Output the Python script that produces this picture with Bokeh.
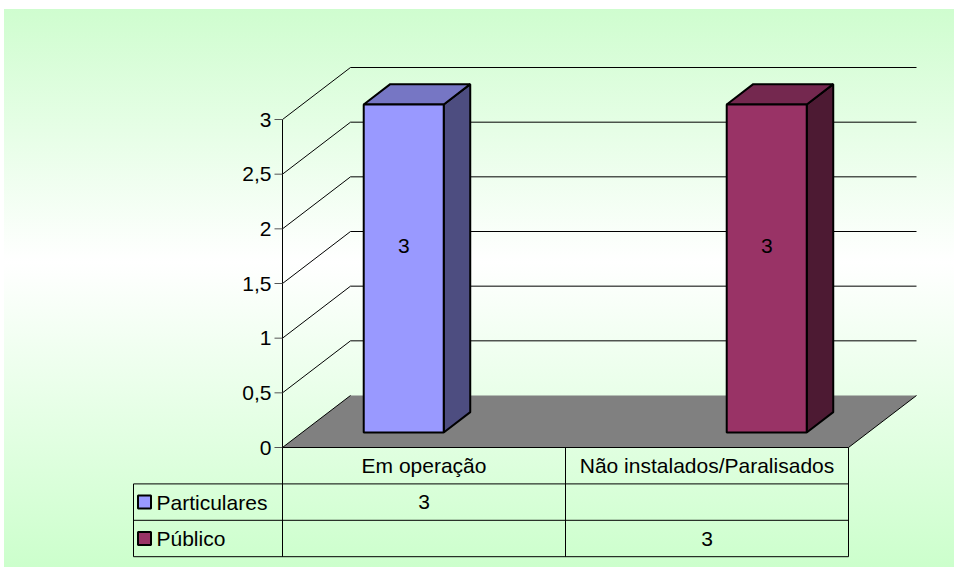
from bokeh.plotting import figure
from bokeh.models import Range1d, ColumnDataSource
from bokeh.core.properties import value
from bokeh.embed import file_html
from bokeh.resources import INLINE

# ---------------- data ----------------
categories = ["Em operação", "Não instalados/Paralisados"]
series_names = ["Particulares", "Público"]
particulares = [3, 0]
publico = [0, 3]
y_ticks = [0, 0.5, 1, 1.5, 2, 2.5, 3]
y_tick_labels = ["0", "0,5", "1", "1,5", "2", "2,5", "3"]

series_values = [particulares, publico]
front_colors = ["#9999ff", "#993366"]
top_colors = ["#7676c4", "#74284f"]
side_colors = ["#4d4d80", "#4d1a33"]

# ---------------- layout constants ----------------
W, H = 954, 567
AX_X, AX_Y = 282, 447          # pixel position of the value axis origin
CAT_PX, UNIT_PX = 283.0, 109.33  # px per category / px per value unit
DX, DY = 68 / CAT_PX, 52 / UNIT_PX  # 3-D depth offset in data units
F1, F2 = 0.29, 0.68            # bar front/back depth fractions
BAR_W = 80 / CAT_PX
ROW = 36.4 / UNIT_PX
LEG_X = (133 - AX_X) / CAT_PX
FONT = value("Liberation Sans")
FS = "21px"
n = len(categories)
ymax = max(y_ticks)

p = figure(width=W, height=H,
           x_range=Range1d(-AX_X / CAT_PX, (W - AX_X) / CAT_PX),
           y_range=Range1d(-(H - AX_Y) / UNIT_PX, AX_Y / UNIT_PX),
           output_backend="svg", toolbar_location=None, min_border=0,
           x_axis_location=None, y_axis_location=None)
p.grid.visible = False
p.outline_line_color = None
p.background_fill_color = None
p.border_fill_color = None
p.styles = {
    "background": "linear-gradient(to right, #ffffff 0px, #ffffff 4px, rgba(255,255,255,0) 4px), "
                  "linear-gradient(to bottom, #ffffff 0px, #ffffff 9px, #cffdcf 9px, #ffffff 262px, #ccffcc 567px)"
}

# ---------------- floor ----------------
p.patch([0, n, n + DX, DX], [0, 0, DY, DY], fill_color="#808080", line_color=None)

# ---------------- gridlines ----------------
back_levels = [t for t in y_ticks if t > 0]
p.segment(x0=[DX] * len(back_levels), y0=[t + DY for t in back_levels],
          x1=[n + DX] * len(back_levels), y1=[t + DY for t in back_levels],
          line_color="#000000", line_width=1)
p.segment(x0=[0] * len(y_ticks), y0=y_ticks,
          x1=[DX] * len(y_ticks), y1=[t + DY for t in y_ticks],
          line_color="#000000", line_width=1)
# floor right edge
p.segment(x0=[n], y0=[0], x1=[n + DX], y1=[DY], line_color="#000000", line_width=1)

# ---------------- 3-D bars ----------------
ns = len(series_names)
bdx, bdy = (F2 - F1) * DX, (F2 - F1) * DY
lab_x, lab_y, lab_t = [], [], []
for s, vals in enumerate(series_values):
    fr = dict(l=[], r=[], b=[], t=[])
    side_xs, side_ys, top_xs, top_ys = [], [], [], []
    for i, v in enumerate(vals):
        if not v:
            continue
        cx = i + 0.5 + F1 * DX
        left = cx + (s - ns / 2) * BAR_W
        right = left + BAR_W
        yb = F1 * DY
        yt = v + F1 * DY
        fr["l"].append(left); fr["r"].append(right); fr["b"].append(yb); fr["t"].append(yt)
        side_xs.append([right, right + bdx, right + bdx, right])
        side_ys.append([yb, yb + bdy, yt + bdy, yt])
        top_xs.append([left, right, right + bdx, left + bdx])
        top_ys.append([yt, yt, yt + bdy, yt + bdy])
        lab_x.append((left + right) / 2)
        lab_y.append(yb + v / 2)
        lab_t.append(str(v))
    p.patches(side_xs, side_ys, fill_color=side_colors[s], line_color="#000000", line_width=2)
    p.patches(top_xs, top_ys, fill_color=top_colors[s], line_color="#000000", line_width=2)
    p.quad(left=fr["l"], right=fr["r"], bottom=fr["b"], top=fr["t"],
           fill_color=front_colors[s], line_color="#000000", line_width=2)

p.text(x=lab_x, y=lab_y, text=lab_t, text_font=FONT, text_font_size=FS,
       text_align="center", text_baseline="middle", text_color="#000000", y_offset=-22)

# ---------------- value axis ----------------
p.segment(x0=[0], y0=[-3 * ROW], x1=[0], y1=[ymax], line_color="#000000", line_width=1)
p.segment(x0=[-8 / CAT_PX] * len(y_ticks), y0=y_ticks, x1=[0] * len(y_ticks), y1=y_ticks,
          line_color="#555555", line_width=1)
p.text(x=[0] * len(y_ticks), y=y_ticks, text=y_tick_labels, text_font=FONT, text_font_size=FS,
       text_align="right", text_baseline="middle", x_offset=-11, text_color="#000000")

# ---------------- data table ----------------
h_y = [0, -ROW, -2 * ROW, -3 * ROW]
h_x0 = [0, LEG_X, LEG_X, LEG_X]
p.segment(x0=h_x0, y0=h_y, x1=[n] * 4, y1=h_y, line_color="#000000", line_width=1)
v_x = [LEG_X] + list(range(1, n + 1))
v_y0 = [-ROW] + [0] * n
p.segment(x0=v_x, y0=v_y0, x1=v_x, y1=[-3 * ROW] * len(v_x), line_color="#000000", line_width=1)

p.text(x=[i + 0.5 for i in range(n)], y=[-ROW / 2] * n, text=categories,
       text_font=FONT, text_font_size=FS, text_align="center", text_baseline="middle")

cell_x, cell_y, cell_t = [], [], []
for s, vals in enumerate(series_values):
    for i, v in enumerate(vals):
        cell_x.append(i + 0.5)
        cell_y.append(-(s + 1.5) * ROW)
        cell_t.append(str(v) if v else "")
p.text(x=cell_x, y=cell_y, text=cell_t, text_font=FONT, text_font_size=FS,
       text_align="center", text_baseline="middle")

leg_y = [-(s + 1.5) * ROW for s in range(ns)]
p.scatter(x=[LEG_X + 11 / CAT_PX] * ns, y=leg_y, marker="square", size=13,
          fill_color=front_colors, line_color="#000000", line_width=2)
p.text(x=[LEG_X + 23 / CAT_PX] * ns, y=leg_y, text=series_names, text_font=FONT,
       text_font_size=FS, text_align="left", text_baseline="middle")

open("out.html", "w").write(file_html(p, INLINE))
